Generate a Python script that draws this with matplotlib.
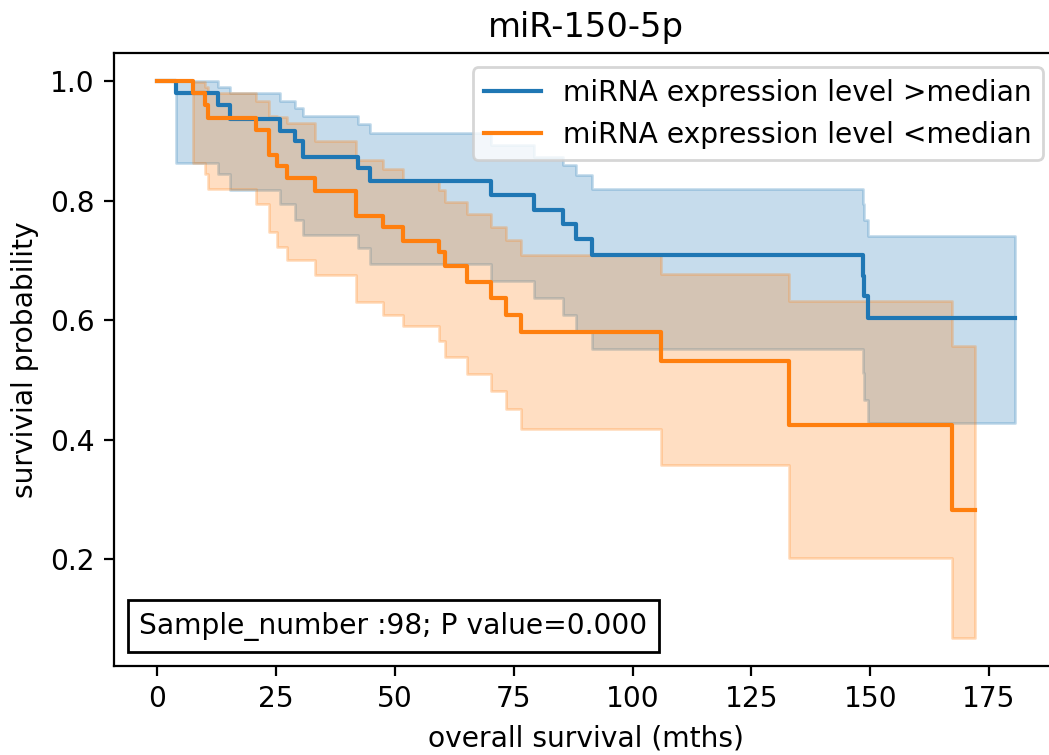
import matplotlib
matplotlib.use("Agg")
import matplotlib.pyplot as plt
from matplotlib.offsetbox import AnchoredText

# Kaplan-Meier estimat, gruppe med uttrykk > median
hoy_t = [0, 4.0, 12.8, 15.2, 25.8, 28.9, 30.7, 42.2, 44.7, 70.3, 79.2, 85.4, 88.0, 91.5, 148.4, 148.7, 149.6, 180.5]
hoy_s = [1.0, 0.980, 0.959, 0.936, 0.917, 0.899, 0.873, 0.854, 0.833, 0.810, 0.784, 0.760, 0.736, 0.709, 0.673, 0.640, 0.604, 0.604]
hoy_ovre = [1.0, 1.0, 0.990, 0.980, 0.967, 0.955, 0.942, 0.928, 0.913, 0.893, 0.873, 0.859, 0.843, 0.820, 0.795, 0.768, 0.741, 0.741]
hoy_nedre = [1.0, 0.862, 0.845, 0.817, 0.795, 0.767, 0.742, 0.720, 0.694, 0.666, 0.637, 0.608, 0.580, 0.551, 0.512, 0.467, 0.428, 0.428]

# gruppe med uttrykk < median
lav_t = [0, 7.5, 10.0, 10.7, 20.8, 23.6, 25.1, 27.2, 33.1, 41.9, 47.5, 51.7, 59.2, 60.5, 65.1, 70.3, 73.3, 76.5, 105.9, 132.8, 167.2, 172.1]
lav_s = [1.0, 0.980, 0.960, 0.938, 0.918, 0.876, 0.857, 0.837, 0.816, 0.775, 0.755, 0.733, 0.714, 0.691, 0.663, 0.637, 0.609, 0.580, 0.531, 0.425, 0.283, 0.283]
lav_ovre = [1.0, 0.998, 0.990, 0.980, 0.967, 0.942, 0.940, 0.929, 0.900, 0.868, 0.852, 0.833, 0.817, 0.798, 0.778, 0.756, 0.734, 0.709, 0.677, 0.632, 0.556, 0.556]
lav_nedre = [1.0, 0.862, 0.845, 0.820, 0.795, 0.747, 0.722, 0.700, 0.675, 0.631, 0.608, 0.590, 0.565, 0.539, 0.510, 0.481, 0.451, 0.418, 0.358, 0.202, 0.068, 0.068]

etiketter = ["miRNA expression level >median", "miRNA expression level <median"]
tittel = "miR-150-5p"
info = "Sample_number :98; P value=0.000"

plt.rcParams["font.size"] = 10.15

fig = plt.figure(figsize=(5.245, 3.775), dpi=200)
# aksen stikker litt ut til hoyre, som i originalen
ax = fig.add_axes([0.1087, 0.1179, 0.8990, 0.8115])

grupper = [(hoy_t, hoy_s, hoy_ovre, hoy_nedre, "C0"),
           (lav_t, lav_s, lav_ovre, lav_nedre, "C1")]
for (t, s, ovre, nedre, farge), navn in zip(grupper, etiketter):
    ax.step(t, s, where="post", color=farge, label=navn)
    ax.fill_between(t, nedre, ovre, step="post", alpha=0.25, linewidth=1.0, color=farge)

ax.set_xlim(-9.1, 189.3)
ax.set_ylim(0.0215, 1.0463)
ax.set_xticks([0, 25, 50, 75, 100, 125, 150, 175])
ax.set_yticks([0.2, 0.4, 0.6, 0.8, 1.0])
ax.set_title(tittel)
ax.set_xlabel("overall survival (mths)")
ax.set_ylabel("survivial probability")
ax.legend(loc="upper right")

boks = AnchoredText(info, loc="lower left", frameon=True)
ax.add_artist(boks)

plt.savefig("out.png", dpi=200)
